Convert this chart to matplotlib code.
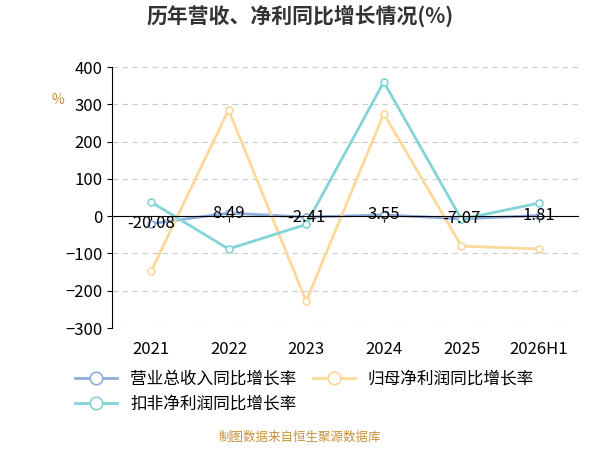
import matplotlib.pyplot as plt

plt.rcParams['font.family'] = ['Noto Sans CJK SC', 'DejaVu Sans']

years = ["2021", "2022", "2023", "2024", "2025", "2026H1"]
revenue = [-20.08, 8.49, -2.41, 3.55, -7.07, 1.81]
net_profit = [-148, 285, -228, 275, -80, -88]
deducted = [38, -88, -22, 360, -8, 35]

c_rev = "#8eaedb"
c_net = "#fdd89b"
c_ded = "#82d4d6"

fig = plt.figure(figsize=(6, 4.5), dpi=100)
ax = fig.add_axes([0.187, 0.271, 0.776, 0.58])
x = list(range(len(years)))

lines = {}
for vals, c, name in [(revenue, c_rev, "营业总收入同比增长率"),
                      (net_profit, c_net, "归母净利润同比增长率"),
                      (deducted, c_ded, "扣非净利润同比增长率")]:
    lines[name], = ax.plot(x, vals, color=c, lw=2, marker="o", ms=5, mfc="white", mec=c, mew=1.2, label=name)

for i, v in enumerate(revenue):
    ax.text(i, v, f"{v:.2f}", ha="center", va="center", fontsize=12, color="black")

ax.set_xlim(-0.5, 5.5)
ax.set_ylim(-300, 400)
ax.set_yticks(range(-300, 401, 100))
ax.tick_params(axis="y", labelsize=12)
ax.yaxis.grid(True, ls=(0, (5, 4)), color="#cccccc")
ax.set_axisbelow(True)
for s in ["top", "right"]:
    ax.spines[s].set_visible(False)
ax.spines["bottom"].set_position(("data", 0))
ax.set_xticks(x)
ax.set_xticklabels(years, fontsize=12)
ax.tick_params(axis="x", pad=86, length=4)
ax.text(-0.13, 0.86, "%", transform=ax.transAxes, color="#c8913a", fontsize=10)

fig.text(0.5, 0.95, "历年营收、净利同比增长情况(%)", ha="center", fontsize=15, fontweight="bold", color="#333333")
order = ["营业总收入同比增长率", "扣非净利润同比增长率", "归母净利润同比增长率"]
fig.legend([lines[k] for k in order], order, loc="upper left", bbox_to_anchor=(0.1, 0.21), ncol=2,
           frameon=False, fontsize=12, handlelength=2.5, columnspacing=1.0, markerscale=1.8)
fig.text(0.5, 0.02, "制图数据来自恒生聚源数据库", ha="center", fontsize=9, color="#c8913a")

fig.savefig("out.png")
